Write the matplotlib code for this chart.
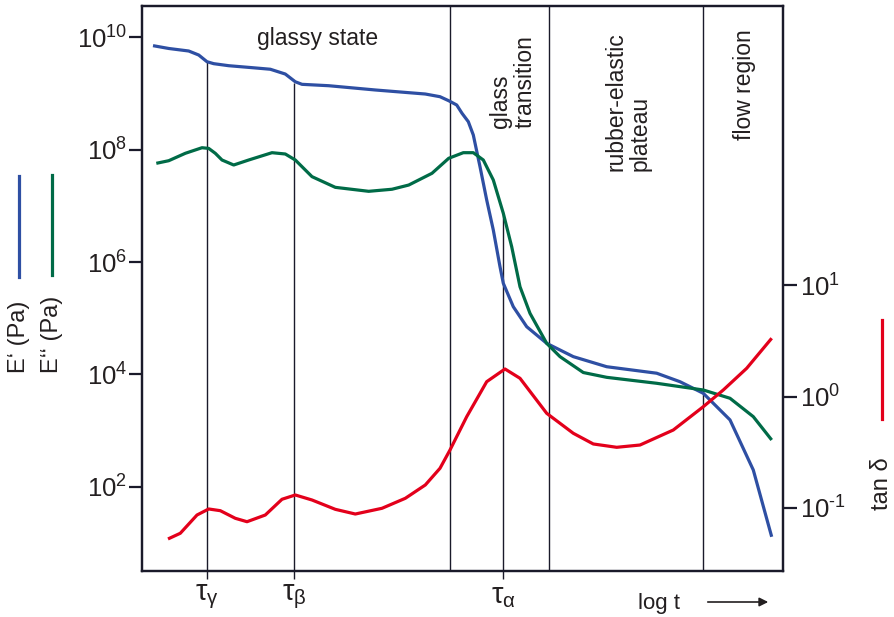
import matplotlib
matplotlib.use("Agg")
import matplotlib.pyplot as plt
from matplotlib.lines import Line2D
from matplotlib.patches import FancyArrowPatch
from matplotlib.ticker import NullLocator

plt.rcParams['font.family'] = ['Liberation Sans', 'DejaVu Sans']
plt.rcParams['mathtext.fontset'] = 'custom'
plt.rcParams['mathtext.rm'] = 'Liberation Sans'
plt.rcParams['mathtext.it'] = 'Liberation Sans'
plt.rcParams['mathtext.sf'] = 'Liberation Sans'

# ---- data (log t in arbitrary units) ----
x_storage = [11, 26.7, 46.7, 56.7, 65, 71.7, 86.7, 110, 128.3, 143.3,
             153.3, 160, 186.7, 233.3, 283.3, 298, 306.7, 314.7, 320, 326.3,
             331.3, 338, 344.7, 351.3, 358, 361.3, 371.3, 384.7, 404.7, 431.3,
             464.7, 514.7, 538, 561.3, 588, 611.3, 629.7]
E_storage = [7.07e9, 6.3e9, 5.68e9, 4.82e9, 3.66e9, 3.38e9, 3.11e9, 2.87e9, 2.69e9, 2.21e9,
             1.61e9, 1.45e9, 1.37e9, 1.15e9, 9.75e8, 8.73e8, 7.41e8, 6.22e8, 4.43e8, 3.14e8,
             1.82e8, 4.97e7, 1.27e7, 3.71e6, 8.25e5, 4.18e5, 1.60e5, 7.06e4, 3.57e4, 2.07e4,
             1.37e4, 1.05e4, 7.41e3, 4.61e3, 1.55e3, 199, 12.9]

x_loss = [14.3, 26.7, 43.3, 60, 66.7, 73.3, 80, 91.7, 106.7, 130,
          143.3, 153.3, 170, 193.3, 226.7, 250, 266.7, 290, 306.7, 321.3,
          331.3, 341.3, 351.3, 361.3, 369.7, 378, 388, 404.7, 418, 441.3,
          464.7, 514.7, 561.3, 588, 611.3, 629.7]
E_loss = [5.70e7, 6.34e7, 8.59e7, 1.08e8, 1.05e8, 8.59e7, 6.53e7, 5.32e7, 6.53e7, 8.81e7,
          8.35e7, 6.53e7, 3.30e7, 2.13e7, 1.81e7, 1.97e7, 2.34e7, 3.79e7, 7.0e7, 8.81e7,
          8.81e7, 6.53e7, 2.88e7, 7.36e6, 1.87e6, 3.63e5, 1.22e5, 3.57e4, 2.07e4, 1.08e4,
          8.87e3, 6.95e3, 5.28e3, 3.76e3, 1.77e3, 681]

x_tan = [26, 38.3, 55, 66.7, 78.3, 93.3, 105, 123.3, 140, 153.3,
         170, 193.3, 213.3, 240, 263.3, 283.3, 298, 308, 324.7, 344.7,
         363, 378, 404.7, 431.3, 451.3, 474.7, 498, 531.3, 561.3, 581.3,
         604.7, 629.7]
tan_delta = [0.0527, 0.0593, 0.0865, 0.098, 0.0946, 0.0808, 0.0753, 0.0865, 0.1198, 0.1309,
             0.118, 0.0973, 0.0883, 0.0994, 0.1222, 0.161, 0.2274, 0.332, 0.661, 1.364,
             1.774, 1.463, 0.709, 0.469, 0.376, 0.351, 0.368, 0.502, 0.813, 1.149,
             1.80, 3.35]

tau_x = [65.3, 152.3, 361.3]
tau_top = [3.6e9, 1.55e9, 7.4e6]
tau_labels = [r'$\mathrm{\tau_{\gamma}}$', r'$\mathrm{\tau_{\beta}}$', r'$\mathrm{\tau_{\alpha}}$']
boundaries = [308, 407, 561.3]

left_ticks = [1e2, 1e4, 1e6, 1e8, 1e10]
left_labels = [r'$10^{2}$', r'$10^{4}$', r'$10^{6}$', r'$10^{8}$', r'$10^{10}$']
right_ticks = [0.1, 1, 10]
right_labels = [r'$10^{\text{-}1}$', r'$10^{0}$', r'$10^{1}$']

region_texts = ['glassy state', 'glass\ntransition', 'rubber-elastic\nplateau', 'flow region']

# ---- colours ----
BLUE = '#2e4fa3'
GREEN = '#006b47'
RED = '#e3001b'
INK = '#231f20'
SPINE = '#1a1a2a'

W, H = 895, 617
fig = plt.figure(figsize=(W / 100, H / 100), dpi=100)
ax = fig.add_axes([142 / W, (H - 571) / H, 641 / W, 565 / H])
ax2 = ax.twinx()

ylo, yhi = 10 ** 0.502, 10 ** 10.555
ax.set_yscale('log')
ax.set_ylim(ylo, yhi)
ax.set_xlim(0, 641)
ax2.set_yscale('log')
ax2.set_ylim(10 ** -1.566, 10 ** 3.51)

for b in boundaries:
    ax.axvline(b, color=SPINE, lw=1.0, zorder=1)
ax.vlines(tau_x, ylo, tau_top, color=SPINE, lw=1.0, zorder=1)

ax.plot(x_storage, E_storage, color=BLUE, lw=2.3, zorder=3,
        solid_capstyle='butt', solid_joinstyle='round')
ax.plot(x_loss, E_loss, color=GREEN, lw=2.3, zorder=3,
        solid_capstyle='butt', solid_joinstyle='round')
ax2.plot(x_tan, tan_delta, color=RED, lw=2.3, zorder=3,
         solid_capstyle='butt', solid_joinstyle='round')

for a in (ax, ax2):
    for s in a.spines.values():
        s.set_color(SPINE)
        s.set_linewidth(1.6)

ax.set_yticks(left_ticks)
ax.set_yticklabels(left_labels)
ax.yaxis.set_minor_locator(NullLocator())
ax.tick_params(axis='y', which='major', direction='out', length=9.5, width=1.6,
               color=SPINE, labelsize=18.5, labelcolor=INK, pad=1)

ax2.set_yticks(right_ticks)
ax2.set_yticklabels(right_labels)
ax2.yaxis.set_minor_locator(NullLocator())
ax2.tick_params(axis='y', which='major', direction='out', length=10, width=1.6,
                color=SPINE, labelsize=18.5, labelcolor=INK, pad=2)

ax.set_xticks(tau_x)
ax.set_xticklabels(tau_labels)
ax.tick_params(axis='x', direction='out', length=6, width=1.0, color=SPINE,
               labelsize=21, labelcolor=INK, pad=2)


def px(xp, yp):
    return xp / W, 1 - yp / H


fig.text(*px(318, 38), region_texts[0], ha='center', va='center', fontsize=16.5, color=INK)
fig.text(*px(512.5, 128), region_texts[1], ha='center', va='bottom', rotation=90,
         multialignment='left', fontsize=16.5, color=INK, linespacing=1.1)
fig.text(*px(628, 171), region_texts[2], ha='center', va='bottom', rotation=90,
         multialignment='left', fontsize=16.5, color=INK, linespacing=1.1)
fig.text(*px(745, 140), region_texts[3], ha='center', va='bottom', rotation=90,
         multialignment='left', fontsize=16.5, color=INK, linespacing=1.1)

# left axis legend labels
fig.add_artist(Line2D([19 / W, 19 / W], [1 - 176 / H, 1 - 277 / H], color=BLUE, lw=2.3))
fig.add_artist(Line2D([52 / W, 52 / W], [1 - 175 / H, 1 - 275 / H], color=GREEN, lw=2.3))
fig.text(*px(19, 373), 'E\u2018 (Pa)', ha='center', va='bottom', rotation=90, fontsize=17, color=INK)
fig.text(*px(52, 373), 'E\u2018\u2018 (Pa)', ha='center', va='bottom', rotation=90, fontsize=17, color=INK)

# right axis legend label
fig.add_artist(Line2D([882 / W, 882 / W], [1 - 320 / H, 1 - 419 / H], color=RED, lw=2.3))
fig.text(*px(882, 510), 'tan \u03b4', ha='center', va='bottom', rotation=90, fontsize=17, color=INK)

# log t with arrow
fig.text(*px(638, 603), 'log t', ha='left', va='center', fontsize=16, color=INK)
fig.add_artist(FancyArrowPatch(px(705, 602), px(771, 602), arrowstyle='-|>',
                               mutation_scale=13, color=INK, lw=1.2,
                               transform=fig.transFigure))

fig.savefig('out.png', dpi=100)
